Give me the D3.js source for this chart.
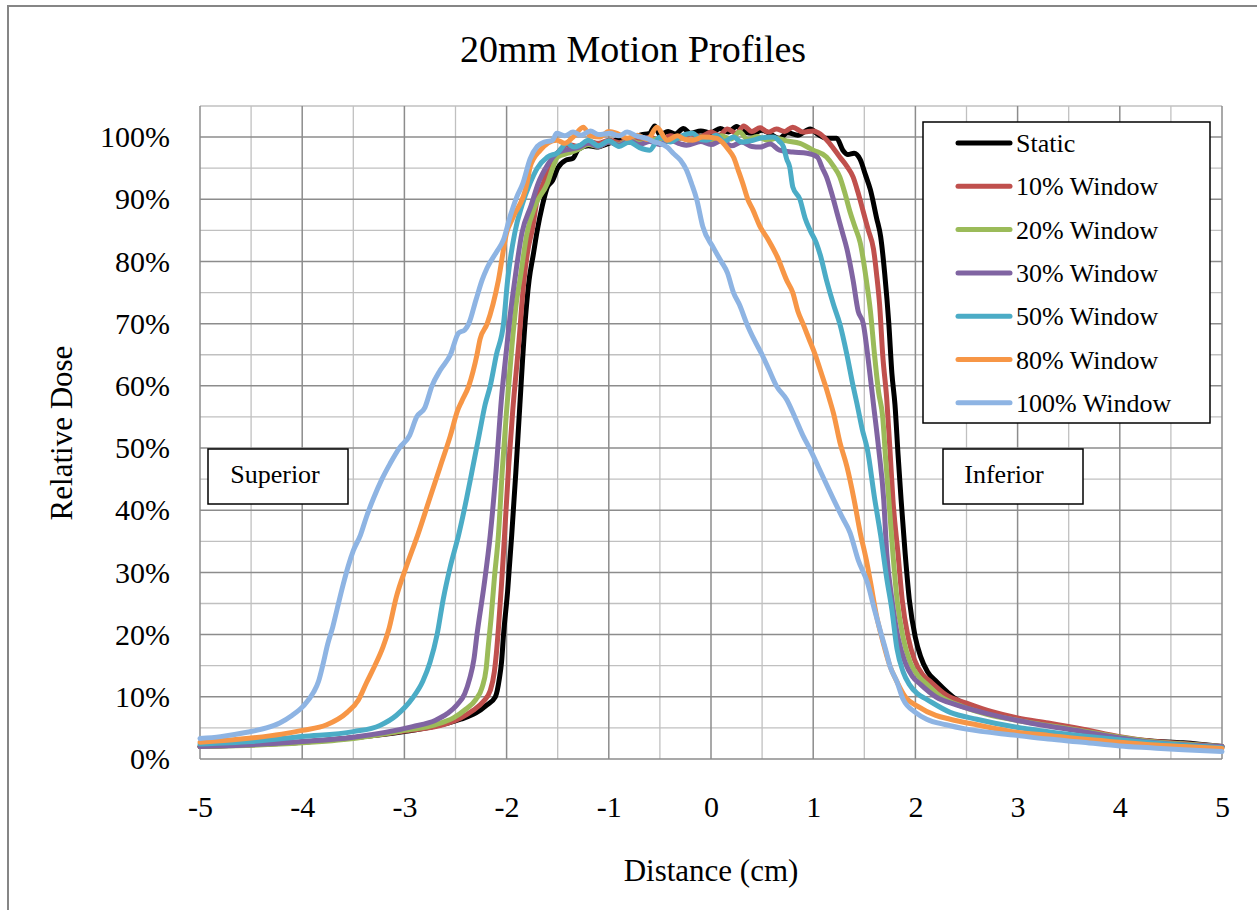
<!DOCTYPE html>
<html>
<head>
<meta charset="utf-8">
<script src="https://cdn.jsdelivr.net/npm/d3@7"></script>
<style>
  body { margin: 0; background: #fff; }
  svg { display: block; font-family: "Liberation Serif", "Times New Roman", serif; }
</style>
</head>
<body>
<svg id="chart"></svg>
<script>
// distance (cm), relative dose (%)
const staticData = [[-5,2.0],[-4.5,2.3],[-4,2.7],[-3.5,3.4],[-3,4.4],[-2.72,5.2],[-2.45,6.4],[-2.3,7.4],[-2.2,8.6],[-2.11,10],[-2.07,13],[-2.05,15.5],[-2.03,20],[-1.99,27],[-1.95,36],[-1.91,46],[-1.87,57],[-1.82,70],[-1.78,77],[-1.74,81],[-1.7,85],[-1.65,89],[-1.6,92],[-1.55,93],[-1.5,95],[-1.42,96.3],[-1.35,96.6],[-1.3,98],[-1.2,98.6],[-1.12,98.4],[-1.0,99],[-0.9,99.6],[-0.8,99.2],[-0.7,100.3],[-0.6,100.6],[-0.55,101.8],[-0.5,100.4],[-0.42,100.9],[-0.35,100.5],[-0.27,101.4],[-0.2,100.6],[-0.1,101],[0,100.7],[0.09,101.4],[0.17,100.8],[0.25,101.7],[0.33,100.8],[0.41,100.6],[0.5,101.1],[0.58,100.5],[0.67,99.8],[0.75,100.7],[0.85,100.3],[0.97,101.3],[1.05,100.4],[1.13,99.8],[1.23,99.8],[1.29,97.9],[1.34,97.2],[1.4,97.4],[1.46,96.4],[1.51,94],[1.56,91.5],[1.62,87],[1.66,84],[1.7,78],[1.74,70],[1.77,62],[1.8,57],[1.83,49],[1.86,41.7],[1.9,33],[1.94,25.7],[2.0,19.5],[2.05,16.5],[2.12,14],[2.21,12.4],[2.4,9.6],[2.6,8.2],[2.8,7.2],[3,6.3],[3.3,5.6],[3.64,4.6],[4,3.4],[4.3,2.9],[4.62,2.6],[5,2.0]];
const win10 = [[-5,2.0],[-4.5,2.3],[-4,2.7],[-3.5,3.4],[-3,4.5],[-2.6,5.6],[-2.45,6.6],[-2.33,7.8],[-2.23,9.2],[-2.16,11],[-2.12,14],[-2.1,17],[-2.08,21],[-2.05,28],[-2.02,36],[-1.98,47],[-1.94,56],[-1.88,67],[-1.83,77],[-1.79,82],[-1.75,85],[-1.7,90],[-1.64,92.6],[-1.58,95.5],[-1.5,97.5],[-1.4,98.8],[-1.3,98.5],[-1.2,99.3],[-1.1,99],[-1,99.5],[-0.9,99.1],[-0.8,99.7],[-0.7,99.3],[-0.6,100],[-0.5,99.5],[-0.4,100.2],[-0.3,99.8],[-0.2,100.5],[-0.1,100.1],[0,100.8],[0.08,100.3],[0.16,101.3],[0.25,100.6],[0.32,101.8],[0.4,100.9],[0.48,101.5],[0.56,100.8],[0.64,101.3],[0.72,100.9],[0.8,101.6],[0.9,100.8],[1,101],[1.07,100.5],[1.16,99],[1.26,96.8],[1.33,95.3],[1.39,93.6],[1.44,91],[1.49,88],[1.54,85],[1.59,82],[1.62,78],[1.65,73],[1.68,65],[1.72,57.8],[1.75,50],[1.78,41.7],[1.83,33],[1.87,25.7],[1.93,19.5],[1.99,16],[2.07,13.6],[2.15,12.4],[2.3,10.3],[2.5,9],[2.75,7.6],[3,6.6],[3.3,5.8],[3.64,4.8],[4,3.6],[4.3,2.9],[4.62,2.5],[5,2.0]];
const win20 = [[-5,2.0],[-4.5,2.2],[-4,2.6],[-3.5,3.3],[-3,4.6],[-2.7,5.5],[-2.52,6.6],[-2.4,8],[-2.3,9.6],[-2.24,11.5],[-2.2,14.5],[-2.18,18],[-2.15,23],[-2.12,29],[-2.08,36],[-2.04,47],[-2.0,56],[-1.95,66],[-1.9,74],[-1.87,77],[-1.8,84.6],[-1.72,89],[-1.6,92.6],[-1.55,95],[-1.5,96.8],[-1.4,97.4],[-1.3,98],[-1.2,98.8],[-1.1,98.5],[-1,99.2],[-0.9,98.8],[-0.8,99.5],[-0.7,99],[-0.6,99.4],[-0.5,99.8],[-0.4,99.3],[-0.3,99.9],[-0.2,99.4],[-0.1,100],[0,99.5],[0.1,100.2],[0.2,99.7],[0.28,100.8],[0.36,99.6],[0.45,100.1],[0.55,99.5],[0.64,99.8],[0.74,99.4],[0.87,99],[1,97.9],[1.13,96.8],[1.2,95.3],[1.26,93.6],[1.31,91],[1.36,88],[1.41,85.5],[1.46,83],[1.52,77],[1.56,72],[1.6,65],[1.64,59],[1.68,55],[1.71,48],[1.74,41.7],[1.78,33],[1.82,25.7],[1.88,19.5],[1.95,15.5],[2.03,13.3],[2.1,12.2],[2.25,10],[2.45,8.5],[2.7,7.2],[3,6.2],[3.3,5.4],[3.64,4.5],[4,3.5],[4.3,2.8],[4.62,2.4],[5,2.0]];
const win30 = [[-5,2.0],[-4.5,2.3],[-4,2.8],[-3.5,3.5],[-2.92,5.2],[-2.7,6.2],[-2.58,7.3],[-2.48,8.8],[-2.41,10.5],[-2.36,13],[-2.32,16],[-2.29,20],[-2.22,28],[-2.16,36],[-2.1,47],[-2.05,58],[-2.0,66],[-1.96,72],[-1.92,77],[-1.85,84.6],[-1.76,89],[-1.69,92.6],[-1.6,95.5],[-1.51,97.4],[-1.4,98],[-1.3,98.3],[-1.2,99],[-1.1,98.5],[-1,99.2],[-0.9,98.7],[-0.8,99.4],[-0.7,98.8],[-0.6,99.3],[-0.5,98.8],[-0.4,99.5],[-0.3,98.9],[-0.24,98.7],[-0.1,99.3],[0,98.8],[0.1,99.4],[0.2,98.6],[0.3,99.2],[0.4,98.5],[0.48,98.4],[0.58,98.9],[0.67,97.9],[0.8,97.6],[0.94,97.4],[1.04,96.8],[1.09,95],[1.13,93.6],[1.18,91],[1.23,88],[1.28,85],[1.33,82],[1.39,77],[1.44,72],[1.49,70],[1.54,64],[1.59,57],[1.64,50],[1.69,41.7],[1.72,33],[1.77,25.7],[1.83,19.5],[1.9,15.5],[1.97,13.3],[2.05,12],[2.2,10],[2.4,8.7],[2.7,7.3],[3,6.2],[3.3,5.3],[3.64,4.4],[4,3.4],[4.3,2.7],[4.62,2.3],[5,2.0]];
const win50 = [[-5,2.4],[-4.5,2.8],[-4,3.6],[-3.5,4.4],[-3.24,5.4],[-3.08,7],[-2.92,9.8],[-2.82,12.5],[-2.75,15.5],[-2.68,20],[-2.62,25.7],[-2.55,31],[-2.47,36],[-2.39,42],[-2.33,47],[-2.27,52],[-2.21,57],[-2.16,60],[-2.1,65],[-2.03,70],[-1.99,77],[-1.92,84.6],[-1.85,89],[-1.77,92.6],[-1.7,95],[-1.6,96.8],[-1.5,97.5],[-1.41,99],[-1.34,98.4],[-1.28,98.7],[-1.2,99.5],[-1.1,98.6],[-1,99.4],[-0.9,98.5],[-0.8,99.2],[-0.7,98.3],[-0.6,97.9],[-0.5,100],[-0.4,99.2],[-0.3,100.1],[-0.18,100.6],[-0.1,99.6],[-0.04,99.5],[0.05,100.3],[0.13,99.3],[0.22,100],[0.3,99.2],[0.41,99.5],[0.5,99.9],[0.61,100],[0.67,99.3],[0.71,98.4],[0.74,96.5],[0.77,95.2],[0.8,92],[0.87,90],[0.92,87],[0.97,85],[1.03,83],[1.07,81],[1.13,77],[1.2,73],[1.26,70],[1.33,65],[1.39,60],[1.43,57],[1.48,53],[1.53,49.8],[1.6,42],[1.66,36],[1.72,29],[1.77,24],[1.82,17.7],[1.88,14],[1.94,12],[2.02,10.5],[2.11,9.6],[2.34,7.5],[2.6,6.4],[2.99,5.1],[3.3,4.4],[3.64,3.7],[4,3.1],[4.3,2.6],[4.62,2.2],[5,1.8]];
const win80 = [[-5,2.7],[-4.6,3.2],[-4.2,4],[-4,4.6],[-3.76,5.5],[-3.56,7.5],[-3.45,9.5],[-3.37,12.3],[-3.29,15],[-3.21,18],[-3.15,21],[-3.08,26],[-2.98,31],[-2.87,36],[-2.75,42],[-2.65,47],[-2.55,52],[-2.48,56],[-2.44,57.5],[-2.37,60],[-2.29,65],[-2.26,67.5],[-2.19,70],[-2.08,77],[-2,84.6],[-1.94,87],[-1.8,92.6],[-1.77,95.2],[-1.67,97.9],[-1.51,99.5],[-1.43,99],[-1.35,100],[-1.25,101.6],[-1.18,100.2],[-1.09,100],[-1,100.9],[-0.92,100.6],[-0.82,99.8],[-0.72,100.3],[-0.62,99.6],[-0.53,101.6],[-0.43,99.5],[-0.33,100.2],[-0.25,99.6],[-0.18,99.5],[-0.08,100],[0.06,99.8],[0.12,99],[0.17,98],[0.22,96.8],[0.27,94.5],[0.31,92.6],[0.36,90],[0.41,88.3],[0.48,85.6],[0.56,83.5],[0.65,80.7],[0.74,77],[0.8,75],[0.85,72],[0.9,70],[0.96,67.5],[1.02,65],[1.07,62.5],[1.12,60],[1.16,57.8],[1.2,55.5],[1.26,51],[1.33,47],[1.4,41.7],[1.46,36.4],[1.52,32],[1.56,28.5],[1.62,23],[1.68,19],[1.75,15],[1.82,12.4],[1.9,10],[2.02,8.5],[2.2,7],[2.34,6.4],[2.6,5.5],[2.99,4.3],[3.3,3.8],[3.64,3.2],[4,2.7],[4.3,2.3],[4.62,2],[5,1.7]];
const win100 = [[-5,3.3],[-4.8,3.6],[-4.54,4.3],[-4.35,5],[-4.22,5.8],[-4.1,7],[-3.99,8.5],[-3.89,10.7],[-3.84,12.5],[-3.8,15],[-3.75,18.5],[-3.7,21.3],[-3.66,24],[-3.6,28],[-3.55,31],[-3.5,33.5],[-3.43,36],[-3.37,39],[-3.3,42],[-3.22,45],[-3.14,47.5],[-3.05,50],[-2.95,52],[-2.88,55],[-2.8,56.5],[-2.73,60],[-2.65,62.5],[-2.55,65],[-2.47,68.5],[-2.41,69],[-2.37,70],[-2.3,73.8],[-2.24,77],[-2.19,79],[-2.1,81.5],[-2.03,83.5],[-1.97,87],[-1.9,90.4],[-1.84,92.6],[-1.77,96.5],[-1.7,98.5],[-1.63,99.2],[-1.55,99.5],[-1.51,100.6],[-1.43,100.2],[-1.35,100.8],[-1.27,100.3],[-1.18,101],[-1.1,100.4],[-0.99,100.6],[-0.9,100.2],[-0.82,100.8],[-0.72,100.1],[-0.63,99.8],[-0.55,99.2],[-0.5,99],[-0.43,98.4],[-0.37,97.4],[-0.3,96.3],[-0.24,94.7],[-0.19,92.5],[-0.14,90],[-0.08,85.6],[0.02,82.3],[0.1,80],[0.16,78.2],[0.22,75],[0.28,73],[0.35,70],[0.42,67.5],[0.5,65],[0.57,62.5],[0.64,60],[0.74,57.8],[0.82,55],[0.9,52],[0.97,49.8],[1.05,47],[1.12,44.5],[1.2,41.7],[1.28,39],[1.36,36.4],[1.44,32],[1.53,28.4],[1.6,24],[1.66,20.4],[1.71,17.5],[1.75,15],[1.82,12.4],[1.88,9.6],[2,7.5],[2.11,6.4],[2.3,5.5],[2.5,4.8],[2.99,3.8],[3.3,3.2],[3.64,2.7],[4,2.1],[4.3,1.8],[4.62,1.5],[5,1.2]];

const seriesNames = ["Static", "10% Window", "20% Window", "30% Window", "50% Window", "80% Window", "100% Window"];
const seriesColors = ["#000000", "#C0504D", "#9BBB59", "#8064A2", "#4BACC6", "#F79646", "#8EB4E3"];
const seriesData = [staticData, win10, win20, win30, win50, win80, win100];

const xTicks = [-5, -4, -3, -2, -1, 0, 1, 2, 3, 4, 5];
const yTicks = [0, 10, 20, 30, 40, 50, 60, 70, 80, 90, 100];

const W = 1257, H = 910;
const svg = d3.select('#chart').attr('width', W).attr('height', H);

// outer chart frame (runs off the right/bottom edge like the screenshot)
svg.append('rect')
  .attr('x', 8).attr('y', 6).attr('width', 1270).attr('height', 930)
  .attr('fill', '#fff').attr('stroke', '#868686').attr('stroke-width', 2);

const x = d3.scaleLinear().domain([-5, 5]).range([200, 1222]);
const y = d3.scaleLinear().domain([0, 105]).range([759, 106]);

const grid = svg.append('g');
// minor grid every 0.5 cm / 5 %
grid.selectAll('.vminor').data(d3.range(-5, 5.01, 0.5).filter(v => v % 1 !== 0))
  .enter().append('line')
  .attr('x1', d => x(d)).attr('x2', d => x(d))
  .attr('y1', y(0)).attr('y2', y(105))
  .attr('stroke', '#c0c0c0').attr('stroke-width', 1.3);
grid.selectAll('.hminor').data(d3.range(5, 106, 10))
  .enter().append('line')
  .attr('y1', d => y(d)).attr('y2', d => y(d))
  .attr('x1', x(-5)).attr('x2', x(5))
  .attr('stroke', '#c0c0c0').attr('stroke-width', 1.3);
// major grid
grid.selectAll('.vmajor').data(xTicks)
  .enter().append('line')
  .attr('x1', d => x(d)).attr('x2', d => x(d))
  .attr('y1', y(0)).attr('y2', y(105))
  .attr('stroke', '#8c8c8c').attr('stroke-width', 1.5);
grid.selectAll('.hmajor').data(yTicks)
  .enter().append('line')
  .attr('y1', d => y(d)).attr('y2', d => y(d))
  .attr('x1', x(-5)).attr('x2', x(5))
  .attr('stroke', '#8c8c8c').attr('stroke-width', 1.5);

// axes (labels only, grid drawn above)
const xAxis = svg.append('g')
  .attr('transform', `translate(0,${y(0)})`)
  .call(d3.axisBottom(x).tickValues(xTicks).tickSize(0).tickPadding(37).tickFormat(d => String(d)));
const yAxis = svg.append('g')
  .attr('transform', `translate(${x(-5)},0)`)
  .call(d3.axisLeft(y).tickValues(yTicks).tickSize(0).tickPadding(30).tickFormat(d => d + '%'));
[xAxis, yAxis].forEach(a => {
  a.select('.domain').remove();
  a.attr('font-family', null);
  a.selectAll('text').attr('font-size', 30).attr('fill', '#000');
});

// curves
const line = d3.line().x(d => x(d[0])).y(d => y(d[1])).curve(d3.curveMonotoneX);
svg.append('g').selectAll('path').data(seriesData)
  .enter().append('path')
  .attr('d', line)
  .attr('fill', 'none')
  .attr('stroke', (d, i) => seriesColors[i])
  .attr('stroke-width', 5)
  .attr('stroke-linejoin', 'round')
  .attr('stroke-linecap', 'round');

// title + axis titles
svg.append('text').attr('x', 633).attr('y', 62).attr('text-anchor', 'middle')
  .attr('font-size', 38).text('20mm Motion Profiles');
svg.append('text').attr('x', 711).attr('y', 881).attr('text-anchor', 'middle')
  .attr('font-size', 31).text('Distance (cm)');
svg.append('text').attr('transform', 'translate(72,433) rotate(-90)').attr('text-anchor', 'middle')
  .attr('font-size', 31).text('Relative Dose');

// legend
const legend = svg.append('g');
legend.append('rect').attr('x', 923).attr('y', 122).attr('width', 287).attr('height', 301)
  .attr('fill', '#fff').attr('stroke', '#000').attr('stroke-width', 1.5);
seriesNames.forEach((name, i) => {
  const ly = 143 + i * 43.3;
  legend.append('line').attr('x1', 958).attr('x2', 1010).attr('y1', ly).attr('y2', ly)
    .attr('stroke', seriesColors[i]).attr('stroke-width', 5).attr('stroke-linecap', 'round');
  legend.append('text').attr('x', 1016).attr('y', ly).attr('dy', '0.35em')
    .attr('font-size', 26).text(name);
});

// annotation boxes
const notes = [{label: 'Superior', x0: 208, cx: 275}, {label: 'Inferior', x0: 943, cx: 1004}];
notes.forEach(n => {
  svg.append('rect').attr('x', n.x0).attr('y', 449).attr('width', 140).attr('height', 55)
    .attr('fill', '#fff').attr('stroke', '#000').attr('stroke-width', 1.5);
  svg.append('text').attr('x', n.cx).attr('y', 483).attr('text-anchor', 'middle')
    .attr('font-size', 26).text(n.label);
});
</script>
</body>
</html>
